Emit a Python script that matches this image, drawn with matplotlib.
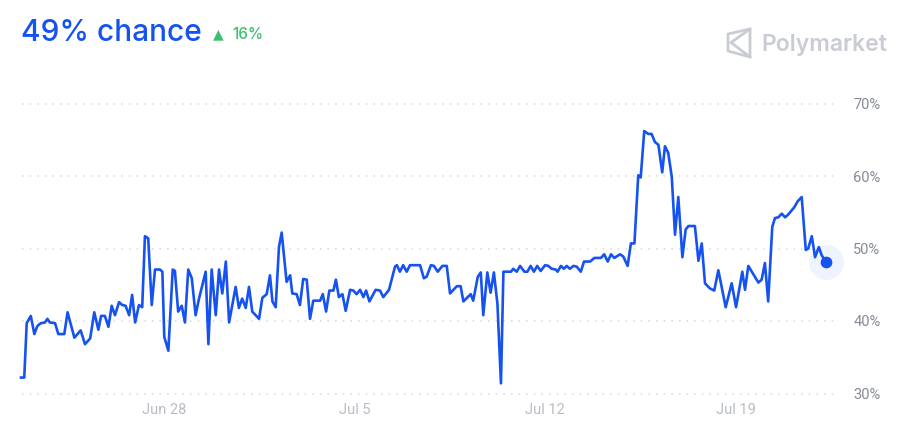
import numpy as np
import matplotlib
matplotlib.use("Agg")
import matplotlib.pyplot as plt
import matplotlib.dates as mdates
from matplotlib.lines import Line2D
from matplotlib.patches import Polygon
from datetime import datetime, timedelta

# days relative to Jun 28 and chance in %
days = [-5.25, -5.13, -5.04, -4.89, -4.76, -4.65, -4.52, -4.37, -4.28, -4.19,
        -4.00, -3.88, -3.66, -3.54, -3.29, -3.06, -2.90, -2.71, -2.56, -2.41,
        -2.31, -2.17, -2.04, -1.92, -1.80, -1.65, -1.53, -1.41, -1.28, -1.17,
        -1.06, -0.92, -0.80, -0.70, -0.58, -0.45, -0.33, -0.15, -0.06, 0.01,
        0.16, 0.32, 0.40, 0.52, 0.65, 0.77, 0.89, 1.02, 1.16, 1.28,
        1.53, 1.63, 1.75, 1.90, 2.02, 2.14, 2.27, 2.39, 2.63, 2.75,
        2.87, 3.00, 3.12, 3.24, 3.49, 3.61, 3.77, 3.89, 3.98, 4.10,
        4.22, 4.32, 4.50, 4.63, 4.71, 4.87, 4.99, 5.11, 5.24, 5.36,
        5.48, 5.73, 5.83, 5.95, 6.07, 6.22, 6.31, 6.42, 6.55, 6.67,
        6.83, 6.95, 7.07, 7.20, 7.32, 7.42, 7.54, 7.77, 7.93, 8.05,
        8.26, 8.48, 8.55, 8.66, 8.78, 8.91, 9.03, 9.40, 9.54, 9.64,
        9.80, 9.91, 10.05, 10.22, 10.38, 10.50, 10.75, 10.89, 10.99, 11.15,
        11.26, 11.35, 11.52, 11.63, 11.72, 11.87, 11.99, 12.11, 12.24, 12.37,
        12.46, 12.74, 12.82, 12.95, 13.07, 13.23, 13.34, 13.46, 13.58, 13.70,
        13.83, 13.99, 14.11, 14.23, 14.38, 14.45, 14.57, 14.68, 14.78, 14.90,
        15.03, 15.15, 15.30, 15.42, 15.64, 15.80, 16.04, 16.16, 16.29, 16.41,
        16.53, 16.74, 16.86, 17.02, 17.14, 17.27, 17.41, 17.50, 17.63, 17.78,
        17.90, 18.02, 18.15, 18.29, 18.39, 18.51, 18.64, 18.76, 18.88, 19.03,
        19.15, 19.25, 19.49, 19.62, 19.74, 19.86, 20.04, 20.20, 20.35, 20.62,
        20.84, 21.00, 21.23, 21.33, 21.45, 21.82, 21.94, 22.06, 22.18, 22.33,
        22.43, 22.55, 22.68, 22.80, 22.92, 23.14, 23.26, 23.41, 23.56, 23.65,
        23.78, 23.90, 24.04, 24.14, 24.29]
chance = [32.2, 32.2, 39.7, 40.7, 38.2, 39.3, 39.7, 39.8, 40.3, 39.8,
          39.7, 38.2, 38.2, 41.2, 37.7, 38.7, 36.8, 37.6, 41.2, 38.8,
          40.7, 40.7, 39.2, 42.1, 40.8, 42.6, 42.2, 42.1, 40.8, 43.6,
          39.8, 42.2, 41.9, 51.7, 51.4, 42.2, 47.1, 47.1, 46.8, 37.8,
          35.9, 47.1, 46.9, 41.3, 42.1, 39.8, 47.1, 45.9, 40.8, 43.0,
          46.8, 36.8, 47.1, 40.8, 47.1, 43.8, 48.2, 39.8, 44.7, 41.8,
          43.1, 41.8, 44.7, 41.3, 40.3, 43.2, 43.7, 46.3, 42.7, 41.9,
          50.2, 52.2, 45.4, 46.3, 43.8, 43.7, 42.2, 45.8, 45.7, 40.3,
          42.8, 42.8, 43.7, 41.3, 44.2, 44.2, 45.7, 43.3, 43.7, 41.4,
          44.3, 44.2, 43.7, 44.3, 43.3, 44.2, 42.7, 44.3, 44.2, 43.3,
          44.3, 47.5, 47.7, 46.8, 47.7, 46.8, 47.7, 47.7, 45.9, 46.1,
          47.7, 47.6, 46.8, 47.6, 47.6, 43.8, 44.8, 44.8, 42.7, 43.3,
          43.7, 42.8, 46.1, 46.7, 40.8, 46.7, 43.9, 46.7, 42.4, 31.4,
          46.8, 46.8, 47.2, 46.8, 47.6, 46.8, 46.8, 47.6, 46.8, 47.6,
          46.9, 47.7, 47.6, 47.2, 47.1, 46.8, 47.6, 47.2, 47.6, 47.2,
          47.6, 47.5, 46.8, 48.2, 48.2, 48.7, 48.7, 49.2, 48.2, 49.2,
          48.7, 49.2, 48.9, 47.6, 50.7, 50.7, 60.1, 59.8, 66.2, 65.8,
          65.8, 64.7, 64.3, 60.5, 64.1, 63.2, 59.9, 51.9, 57.1, 48.8,
          52.6, 53.1, 53.1, 48.3, 50.7, 45.2, 44.5, 44.2, 47.0, 41.9,
          45.2, 41.9, 46.8, 44.3, 47.6, 45.3, 45.7, 48.0, 42.7, 53.0,
          54.2, 54.3, 54.8, 54.3, 54.7, 55.7, 56.5, 57.1, 49.8, 50.0,
          51.7, 48.8, 50.2, 49.1, 48.2]

tick_dates = [datetime(2024, 6, 28), datetime(2024, 7, 5),
              datetime(2024, 7, 12), datetime(2024, 7, 19)]
tick_labels = ["Jun 28", "Jul 5", "Jul 12", "Jul 19"]
y_ticks = [30, 40, 50, 60, 70]

BLUE = "#1652f0"
W, H = 909, 429

def px(x, y):
    return x / W, 1 - y / H

base = datetime(2024, 6, 28)
x = [mdates.date2num(base + timedelta(days=d)) for d in days]

fig = plt.figure(figsize=(W / 100, H / 100), dpi=100)
ax = fig.add_axes([22 / W, 1 - 393.5 / H, (838 - 22) / W, (393.5 - 103.5) / H])
ax.set_ylim(30, 70)
x0 = mdates.date2num(base) + (22 - 164) / 27.24
x1 = mdates.date2num(base) + (838 - 164) / 27.24
ax.set_xlim(x0, x1)

for v in y_ticks:
    ax.axhline(v, color="#d5d8de", lw=1.1, ls=(0, (1, 4)), clip_on=False, zorder=1)

ax.plot(x, chance, color=BLUE, lw=1.9, solid_joinstyle="round", clip_on=False, zorder=3)

# end marker with halo
ax.scatter([x[-1]], [chance[-1]], s=580, color="#eef3fe", zorder=2, clip_on=False)
ax.scatter([x[-1]], [chance[-1]], s=55, color=BLUE, zorder=4, clip_on=False)

for s in ax.spines.values():
    s.set_visible(False)
ax.set_xticks([mdates.date2num(d) for d in tick_dates])
ax.set_xticklabels(tick_labels)
ax.tick_params(axis="x", length=0, pad=7, labelsize=10.5, labelcolor="#b9bdc6")
ax.yaxis.tick_right()
ax.set_yticks(y_ticks)
ax.set_yticklabels([f"{v}%" for v in y_ticks])
ax.tick_params(axis="y", length=0, pad=11, labelsize=10.5, labelcolor="#858a96")
for lab in ax.get_xticklabels() + ax.get_yticklabels():
    lab.set_family(["Roboto", "DejaVu Sans"])
ax.patch.set_alpha(0)

# header
fig.text(*px(21, 41), "49% chance", color=BLUE, fontsize=21.5, family="Inter",
         fontweight="medium", va="baseline", ha="left")
fig.text(*px(213, 38.5), "\u25b2", color="#3dbf6e", fontsize=10, family="DejaVu Sans",
         va="baseline", ha="left")
fig.text(*px(232, 39), "16%", color="#3dbf6e", fontsize=11, family="Inter",
         fontweight="medium", va="baseline", ha="left")

# Polymarket logo
logo = "#c9ccd3"
outline = [px(728, 34), px(750, 29), px(750, 57), px(728, 51)]
fig.patches.append(Polygon(outline, closed=True, fill=False, ec=logo, lw=2,
                           transform=fig.transFigure, joinstyle="round"))
inner = [px(750, 29), px(731, 42.5), px(750, 57)]
fig.lines.append(Line2D([p[0] for p in inner], [p[1] for p in inner], color=logo,
                        lw=2, transform=fig.transFigure))
fig.text(*px(761, 51), "Polymarket", color=logo, fontsize=16.5, family="Inter",
         fontweight="semibold", va="baseline", ha="left")

fig.savefig("out.png", dpi=100)
